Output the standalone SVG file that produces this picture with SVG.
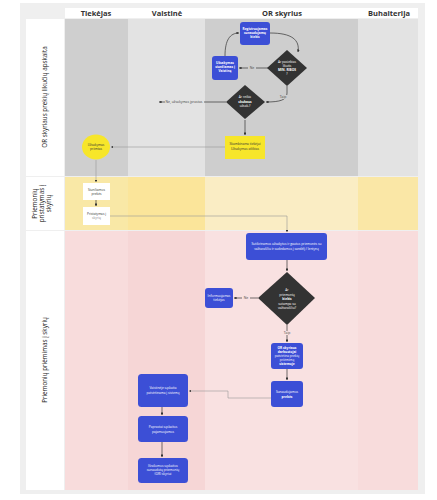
<svg xmlns="http://www.w3.org/2000/svg" width="437" height="500" viewBox="0 0 437 500">
<defs>
<marker id="ah" viewBox="0 0 6 6" refX="5.5" refY="3" markerWidth="4" markerHeight="4" orient="auto"><path d="M0,0 L6,3 L0,6 Z" fill="#333"/></marker>
<style>
.hd{font-family:"Open Sans","DejaVu Sans",sans-serif;font-size:7.5px;font-weight:bold;fill:#333;text-anchor:middle}
.ln{font-family:"Open Sans","DejaVu Sans",sans-serif;font-size:6.3px;fill:#222;text-anchor:middle}
.nt{font-family:"Open Sans","DejaVu Sans",sans-serif;font-size:3.2px;fill:#fff;text-anchor:middle}
.dt{font-family:"Open Sans","DejaVu Sans",sans-serif;font-size:3.2px;fill:#333;text-anchor:middle}
.lb{font-family:"Open Sans","DejaVu Sans",sans-serif;font-size:3.4px;fill:#444;text-anchor:middle}
.b{font-weight:bold}
.blue{fill:#3c4fd6}
.dia{fill:#333}
.c{fill:none;stroke:#333;stroke-width:0.7}
.cl{fill:none;stroke:#999;stroke-width:0.6}
</style>
</defs>
<rect width="437" height="500" fill="#fff"/>
<rect x="20" y="3" width="405" height="491" fill="#efefef"/>
<!-- header -->
<g id="header">
<rect x="65" y="8" width="353" height="10" fill="#fff"/>
<text class="hd" x="96" y="15.8">Tiekėjas</text>
<text class="hd" x="167" y="15.8">Vaistinė</text>
<text class="hd" x="282" y="15.8">OR skyrius</text>
<text class="hd" x="389" y="15.8">Buhalterija</text>
</g>
<!-- lanes -->
<g id="lanes">
<rect x="26" y="19" width="38" height="157" fill="#fff"/>
<rect x="26" y="177" width="38" height="53" fill="#fff"/>
<rect x="26" y="231" width="38" height="259" fill="#fff"/>
<rect x="65" y="19" width="63" height="157" fill="#cfcfcf"/>
<rect x="128" y="19" width="77" height="157" fill="#e3e3e3"/>
<rect x="205" y="19" width="153" height="157" fill="#cecece"/>
<rect x="358" y="19" width="60" height="157" fill="#e3e3e3"/>
<rect x="65" y="177" width="63" height="53" fill="#f9e8a6"/>
<rect x="128" y="177" width="77" height="53" fill="#fbe59a"/>
<rect x="205" y="177" width="153" height="53" fill="#faedc4"/>
<rect x="358" y="177" width="60" height="53" fill="#fae7a6"/>
<rect x="65" y="231" width="63" height="259" fill="#f8dcdc"/>
<rect x="128" y="231" width="77" height="259" fill="#f6d6d6"/>
<rect x="205" y="231" width="153" height="259" fill="#f9e1e1"/>
<rect x="358" y="231" width="60" height="259" fill="#f8dcdc"/>
<text class="ln" transform="translate(47,97) rotate(-90)">OR skyriaus prekių likučių apskaita</text>
<text class="ln" transform="translate(40,203.5) rotate(-90)"><tspan x="0" y="-3">Priemonių</tspan><tspan x="0" y="4">pristatymas į</tspan><tspan x="0" y="11">skyrių</tspan></text>
<text class="ln" transform="translate(47,360) rotate(-90)">Priemonių priėmimas į skyrių</text>
</g>
<!-- connectors -->
<g id="connectors">
<path class="c" d="M225,56 C225,40 230,33 239,33" marker-end="url(#ah)"/>
<path class="c" d="M270,33 C292,33 300,40 298,52" marker-end="url(#ah)"/>
<path class="c" d="M268,68 L239,68" marker-end="url(#ah)"/>
<rect x="248" y="66" width="8" height="4" fill="#cecece"/>
<text class="lb" x="252" y="69.2">Ne</text>
<path class="c" d="M287,86 L287,93 C287,100 280,102 266,102" marker-end="url(#ah)"/>
<rect x="278" y="95" width="10" height="4" fill="#cecece"/>
<text class="lb" x="283" y="98.2">Taip</text>
<path class="c" d="M226,102 L204,102 M165,102 L159,102" marker-end="url(#ah)"/>
<text class="lb" x="184" y="103.2">Ne, užsakymas įprastas</text>
<path class="c" d="M245,120 L245,135" marker-end="url(#ah)" stroke-width="1"/>
<path class="cl" d="M225,147 L111,147" marker-end="url(#ah)"/>
<path class="cl" d="M96,160 L96,182" marker-end="url(#ah)"/>
<path class="c" d="M96,200 L96,206" marker-end="url(#ah)"/>
<path class="cl" d="M110,216 L287,216 L287,232" marker-end="url(#ah)"/>
<path class="c" d="M287,260 L287,271" marker-end="url(#ah)"/>
<path class="c" d="M258,298 L234,298" marker-end="url(#ah)"/>
<rect x="242" y="296" width="8" height="4" fill="#f9e1e1"/>
<text class="lb" x="246" y="299.2">Ne</text>
<path class="c" d="M287,325 L287,342" marker-end="url(#ah)"/>
<rect x="282" y="331" width="10" height="4" fill="#f9e1e1"/>
<text class="lb" x="287" y="334.2">Taip</text>
<path class="c" d="M287,369 L287,380" marker-end="url(#ah)"/>
<path class="cl" d="M271,398 L228,398 L228,391 L189,391" marker-end="url(#ah)"/>
<path class="c" d="M162,407 L162,415" marker-end="url(#ah)"/>
<path class="c" d="M162,442 L162,457" marker-end="url(#ah)"/>
</g>
<!-- nodes -->
<g id="n-registruojamas">
<rect class="blue" x="240" y="22" width="30" height="23" rx="3"/>
<text class="nt b"><tspan x="255" y="30">Registruojamas</tspan><tspan x="255" y="34">sunaudojamų</tspan><tspan x="255" y="38">kiekis</tspan></text>
</g>
<g id="n-uzsakymas">
<rect class="blue" x="212" y="56" width="26" height="24" rx="3"/>
<text class="nt b"><tspan x="225" y="64">Užsakymas</tspan><tspan x="225" y="68">siunčiamas į</tspan><tspan x="225" y="72">Vaistinę</tspan></text>
</g>
<g id="n-d1">
<polygon class="dia" points="287,50 307,68 287,86 267,68"/>
<text class="nt"><tspan x="287" y="63">Ar pasiektas</tspan><tspan x="287" y="67">likutis</tspan><tspan x="287" y="71" class="b">MIN. RIBOS</tspan><tspan x="287" y="75">?</tspan></text>
</g>
<g id="n-d2">
<polygon class="dia" points="245,85 265,102 245,119 226,102"/>
<text class="nt"><tspan x="245" y="98">Ar reikia</tspan><tspan x="245" y="102.5" class="b">skubaus</tspan><tspan x="245" y="107">užsak.?</tspan></text>
</g>
<g id="n-skubus">
<rect x="225" y="136" width="40" height="23" fill="#f7e62a"/>
<text class="dt"><tspan x="245" y="145">Skambinama tiekėjui</tspan><tspan x="245" y="150">Užsakymas atliktas</tspan></text>
</g>
<g id="n-priimtas">
<ellipse cx="96" cy="147" rx="14" ry="12.5" fill="#f7e62a"/>
<text class="dt"><tspan x="96" y="146">Užsakymas</tspan><tspan x="96" y="150">priimtas</tspan></text>
</g>
<g id="n-siunciamos">
<rect x="83" y="183" width="27" height="17" fill="#fff"/>
<text class="dt"><tspan x="96.5" y="190.5">Siunčiamos</tspan><tspan x="96.5" y="194.5">prekės</tspan></text>
</g>
<g id="n-pristatymas">
<rect x="83" y="207" width="27" height="18" fill="#fff"/>
<text class="dt"><tspan x="96.5" y="215">Pristatymas į</tspan><tspan x="96.5" y="219" fill="#888">skyrių</tspan></text>
</g>
<g id="n-sutikrinamos">
<rect class="blue" x="246" y="233" width="81" height="27" rx="3"/>
<text class="nt"><tspan x="286.5" y="245">Sutikrinamos užsakytos ir gautos priemonės su</tspan><tspan x="286.5" y="249.5">važtaraščiu ir sudedamos į sandėlį / lentyną</tspan></text>
</g>
<g id="n-d3">
<polygon class="dia" points="287,272 315,298 287,325 258,298"/>
<text class="nt"><tspan x="287" y="291">Ar</tspan><tspan x="287" y="295.5">priemonių</tspan><tspan x="287" y="300" class="b">kiekis</tspan><tspan x="287" y="304.5">sutampa su</tspan><tspan x="287" y="309">važtaraščiu?</tspan></text>
</g>
<g id="n-informuojamas">
<rect class="blue" x="205" y="288" width="28" height="20" rx="3"/>
<text class="nt"><tspan x="219" y="297">Informuojamas</tspan><tspan x="219" y="301">tiekėjas</tspan></text>
</g>
<g id="n-patvirtina">
<rect class="blue" x="271" y="343" width="32" height="26" rx="3"/>
<text class="nt"><tspan x="287" y="349" class="b">OR skyriaus</tspan><tspan x="287" y="353" class="b">darbuotojai</tspan><tspan x="287" y="357">patvirtina prekių</tspan><tspan x="287" y="361">priėmimą</tspan><tspan x="287" y="365" class="b">sistemoje</tspan></text>
</g>
<g id="n-sunaudojamos">
<rect class="blue" x="271" y="381" width="32" height="26" rx="3"/>
<text class="nt"><tspan x="287" y="393">Sunaudojamos</tspan><tspan x="287" y="397.5" class="b">prekės</tspan></text>
</g>
<g id="n-vaistineje">
<rect class="blue" x="138" y="374" width="50" height="33" rx="3.5"/>
<text class="nt"><tspan x="163" y="389">Vaistinėje sąskaita</tspan><tspan x="163" y="393.5">patvirtinama į sistemą</tspan></text>
</g>
<g id="n-pajamuojamos">
<rect class="blue" x="138" y="416" width="50" height="26" rx="3.5"/>
<text class="nt"><tspan x="163" y="428">Paprastai sąskaitos</tspan><tspan x="163" y="432.5">pajamuojamos</tspan></text>
</g>
<g id="n-israsomos">
<rect class="blue" x="138" y="458" width="50" height="25" rx="3.5"/>
<text class="nt"><tspan x="163" y="467">Išrašomos sąskaitos</tspan><tspan x="163" y="471">sunaudotų priemonių</tspan><tspan x="163" y="475">(OR) skyriui</tspan></text>
</g>
</svg>
